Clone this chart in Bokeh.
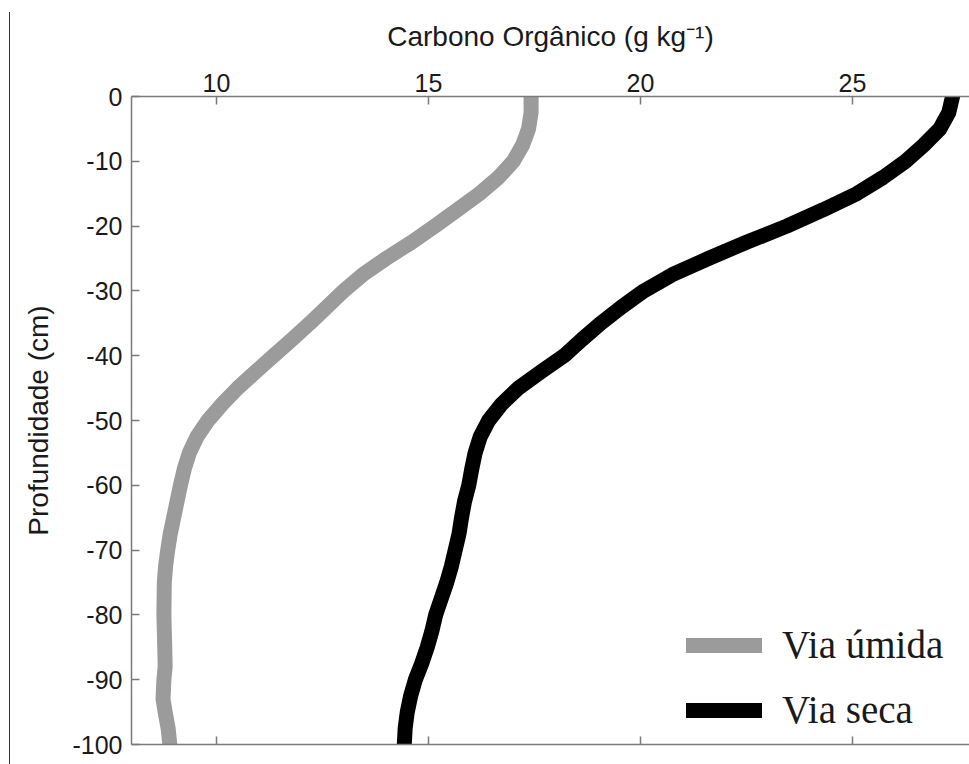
from bokeh.plotting import figure
from bokeh.models import LinearAxis, FixedTicker, Range1d, Div
from bokeh.layouts import row
from bokeh.embed import file_html
from bokeh.resources import INLINE

# ---- data ----
depth_umida = [0, -2.5, -5, -7.5, -10, -12.5, -15, -17.5, -20, -22.5, -25, -27.5,
               -30, -32.5, -35, -37.5, -40, -42.5, -45, -47.5, -50, -52.5, -55,
               -57.5, -60, -62.5, -65, -67.5, -70, -72.5, -75, -80, -85, -88, -90,
               -93, -95, -97.5, -100]
carbono_umida = [17.42, 17.42, 17.36, 17.22, 17.0, 16.65, 16.2, 15.68, 15.15, 14.6,
                 14.0, 13.45, 13.0, 12.6, 12.2, 11.78, 11.35, 10.92, 10.5, 10.13,
                 9.8, 9.54, 9.36, 9.24, 9.15, 9.07, 8.99, 8.91, 8.85, 8.8, 8.77,
                 8.76, 8.78, 8.79, 8.76, 8.74, 8.79, 8.86, 8.9]

depth_seca = [0, -2.5, -5, -7.5, -10, -12.5, -15, -17.5, -20, -22.5, -25, -27.5,
              -30, -32.5, -35, -37.5, -40, -42.5, -45, -47.5, -50, -52.5, -55,
              -57.5, -60, -62.5, -65, -67.5, -70, -72.5, -75, -77.5, -80, -82.5,
              -85, -87.5, -90, -92.5, -95, -97.5, -100]
carbono_seca = [27.36, 27.27, 27.06, 26.68, 26.25, 25.72, 25.1, 24.3, 23.45, 22.5,
                21.6, 20.75, 20.08, 19.55, 19.06, 18.62, 18.2, 17.65, 17.12, 16.72,
                16.42, 16.22, 16.1, 16.02, 15.95, 15.85, 15.78, 15.72, 15.63, 15.54,
                15.43, 15.3, 15.17, 15.08, 14.97, 14.84, 14.69, 14.58, 14.5, 14.45,
                14.43]

x_ticks = [10, 15, 20, 25]
y_ticks = [0, -10, -20, -30, -40, -50, -60, -70, -80, -90, -100]

series_names = ["Via úmida", "Via seca"]
x_title = "Carbono Orgânico (g kg⁻¹)"
y_title = "Profundidade (cm)"

# ---- figure ----
AXIS_COLOR = "#7a7a7a"
TEXT_COLOR = "#1a1a1a"
SANS = "Liberation Sans"

p = figure(width=959, height=764,
           x_range=Range1d(7.996, 27.76), y_range=Range1d(-100, 0),
           x_axis_location="above",
           toolbar_location=None, output_backend="svg",
           min_border_left=121, min_border_right=0,
           min_border_top=96, min_border_bottom=20)
p.outline_line_color = None
p.grid.visible = False
p.background_fill_color = "#ffffff"
p.border_fill_color = "#ffffff"

top = p.xaxis[0]
top.ticker = FixedTicker(ticks=x_ticks)
top.axis_label = x_title
top.axis_label_text_font = SANS
top.axis_label_text_font_size = "28px"
top.axis_label_text_font_style = "normal"
top.axis_label_text_color = TEXT_COLOR
top.axis_label_standoff = 19

left = p.yaxis[0]
left.ticker = FixedTicker(ticks=y_ticks)
left.major_label_overrides = {t: str(t) for t in y_ticks}
left.axis_label = y_title
left.axis_label_text_font = SANS
left.axis_label_text_font_size = "28px"
left.axis_label_text_font_style = "normal"
left.axis_label_text_color = TEXT_COLOR
left.axis_label_standoff = 15

bottom = LinearAxis(ticker=FixedTicker(ticks=x_ticks))
bottom.major_label_text_font_size = "1px"
bottom.major_label_text_color = None
bottom.major_label_standoff = 0
p.add_layout(bottom, "below")

for ax in (top, left, bottom):
    ax.axis_line_color = AXIS_COLOR
    ax.axis_line_width = 1.5
    ax.major_tick_line_color = AXIS_COLOR
    ax.major_tick_line_width = 1.5
    ax.major_tick_in = 8
    ax.major_tick_out = 0
    ax.minor_tick_line_color = None
for ax in (top, left):
    ax.major_label_text_font = SANS
    ax.major_label_text_font_size = "25px"
    ax.major_label_text_color = TEXT_COLOR
top.major_label_standoff = 5
left.major_label_standoff = 9

p.line(carbono_umida, depth_umida, line_color="#9b9b9b", line_width=15,
       line_cap="round", line_join="round", legend_label=series_names[0])
p.line(carbono_seca, depth_seca, line_color="#000000", line_width=15,
       line_cap="round", line_join="round", legend_label=series_names[1])

lg = p.legend[0]
lg.location = (555, 12)
lg.border_line_color = None
lg.background_fill_color = "#ffffff"
lg.background_fill_alpha = 1.0
lg.padding = 10
lg.margin = 0
lg.spacing = 20
lg.glyph_width = 76
lg.glyph_height = 40
lg.label_height = 40
lg.label_standoff = 20
lg.label_text_font = "Liberation Serif"
lg.label_text_font_size = "39px"
lg.label_text_color = TEXT_COLOR

spacer = Div(text="", width=9, height=764, margin=0)
vline = Div(text="", width=1, height=752, margin=(12, 0, 0, 0),
            styles={"background-color": "#333333"})

layout = row(spacer, vline, p, spacing=0)

open("out.html", "w").write(file_html(layout, INLINE))
